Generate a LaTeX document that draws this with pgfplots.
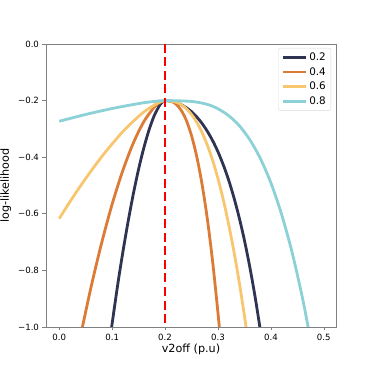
\documentclass[border=0pt]{standalone}
\usepackage{fontspec}
\setmainfont{DejaVu Sans}
\usepackage{pgfplots}
\pgfplotsset{compat=1.18}

\definecolor{cnavy}{HTML}{2E3451}
\definecolor{corange}{HTML}{DB7B35}
\definecolor{cyellow}{HTML}{F8C66E}
\definecolor{ccyan}{HTML}{8BD1D6}
\definecolor{spine}{HTML}{808080}

\begin{document}
\begin{tikzpicture}
\path[use as bounding box] (-46pt,-47pt) rectangle (328pt,327pt);
\begin{axis}[
    scale only axis,
    width=290pt, height=283pt,
    xmin=-0.025, xmax=0.523,
    ymin=-1.0, ymax=0.0,
    axis line style={spine, line width=0.6pt},
    tick align=outside,
    major tick length=3.5pt,
    tick style={spine, line width=0.6pt},
    xtick={0,0.1,0.2,0.3,0.4,0.5},
    xticklabels={0.0,0.1,0.2,0.3,0.4,0.5},
    ytick={-1,-0.8,-0.6,-0.4,-0.2,0},
    yticklabels={−1.0,−0.8,−0.6,−0.4,−0.2,0.0},
    ticklabel style={font=\fontsize{8.6}{10}\selectfont},
    xtick pos=bottom, ytick pos=left,
    xlabel={v2off (p.u)},
    ylabel={log-likelihood},
    label style={font=\fontsize{11.2}{13}\selectfont},
    xlabel style={yshift=3pt},
    ylabel style={yshift=0pt},
    legend style={at={(1,1)}, anchor=north east, xshift=-5pt, yshift=-4pt,
        draw=black!15, rounded corners=2pt, font=\fontsize{10.4}{12}\selectfont,
        row sep=1.5pt, inner xsep=3pt, inner ysep=2.5pt},
    legend cell align=left,
    legend image code/.code={\draw[#1] (0pt,0pt) -- (23pt,0pt);},
    every axis plot/.append style={line width=2.8pt},
]
\addplot[cnavy, smooth] coordinates {
    (0.096,-1.04) (0.11,-0.857) (0.12,-0.738) (0.13,-0.629) (0.14,-0.530)
    (0.15,-0.442) (0.16,-0.366) (0.17,-0.302) (0.18,-0.251) (0.19,-0.216)
    (0.195,-0.205) (0.2,-0.2) (0.21,-0.2015) (0.22,-0.206) (0.23,-0.214)
    (0.24,-0.225) (0.25,-0.239) (0.26,-0.258) (0.27,-0.281) (0.28,-0.309)
    (0.29,-0.342) (0.30,-0.381) (0.31,-0.427) (0.32,-0.480) (0.33,-0.542)
    (0.34,-0.613) (0.35,-0.694) (0.36,-0.787) (0.37,-0.892) (0.38,-1.011)
    (0.385,-1.077)
};
\addlegendentry{0.2}
\addplot[corange, smooth] coordinates {
    (0.04,-1.034) (0.06,-0.860) (0.08,-0.704) (0.10,-0.566) (0.12,-0.448)
    (0.14,-0.350) (0.16,-0.274) (0.18,-0.222) (0.19,-0.2065) (0.2,-0.2)
    (0.21,-0.202) (0.22,-0.211) (0.23,-0.233) (0.24,-0.269) (0.25,-0.324)
    (0.26,-0.399) (0.27,-0.497) (0.28,-0.620) (0.29,-0.771) (0.30,-0.951)
    (0.305,-1.052)
};
\addlegendentry{0.4}
\addplot[cyellow, smooth] coordinates {
    (0,-0.617) (0.02,-0.558) (0.04,-0.502) (0.06,-0.449) (0.08,-0.399)
    (0.10,-0.353) (0.12,-0.310) (0.14,-0.273) (0.16,-0.240) (0.18,-0.215)
    (0.19,-0.205) (0.2,-0.2) (0.22,-0.205) (0.23,-0.214) (0.24,-0.228)
    (0.25,-0.249) (0.26,-0.277) (0.27,-0.313) (0.28,-0.358) (0.29,-0.412)
    (0.30,-0.476) (0.31,-0.550) (0.32,-0.636) (0.33,-0.732) (0.34,-0.840)
    (0.35,-0.961) (0.355,-1.026)
};
\addlegendentry{0.6}
\addplot[ccyan, smooth] coordinates {
    (0,-0.273) (0.05,-0.249) (0.10,-0.228) (0.15,-0.2105) (0.175,-0.204)
    (0.2,-0.2) (0.25,-0.203) (0.28,-0.2135) (0.30,-0.229) (0.32,-0.253)
    (0.34,-0.288) (0.36,-0.338) (0.38,-0.4045) (0.40,-0.491) (0.42,-0.601)
    (0.44,-0.736) (0.46,-0.901) (0.475,-1.046)
};
\addlegendentry{0.8}
\addplot[red, line width=2.8pt, dash pattern=on 9pt off 4.5pt, forget plot]
    coordinates {(0.2,0) (0.2,-1)};
\node[anchor=south west, inner sep=0pt, font=\fontsize{8.6}{10}\selectfont]
    at (rel axis cs:0,1) [yshift=1.5pt] {1e4};
\end{axis}
\end{tikzpicture}
\end{document}
